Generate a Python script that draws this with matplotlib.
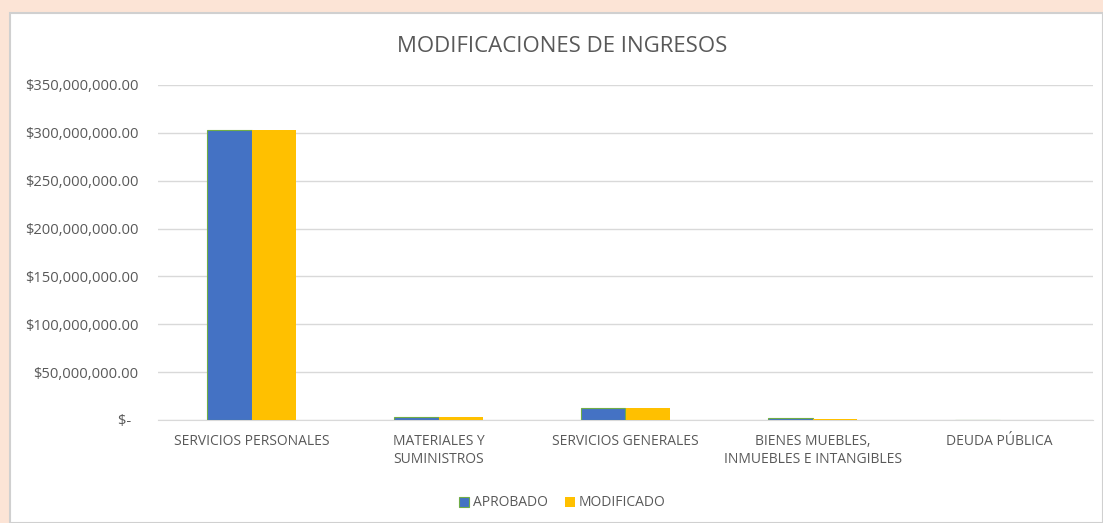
import matplotlib.pyplot as plt
import matplotlib.patches as patches
import numpy as np
from matplotlib.ticker import FuncFormatter, MultipleLocator

categories = ['SERVICIOS PERSONALES', 'MATERIALES Y\nSUMINISTROS', 'SERVICIOS GENERALES',
              'BIENES MUEBLES,\nINMUEBLES E INTANGIBLES', 'DEUDA PÚBLICA']
aprobado = [303_000_000, 3_000_000, 13_000_000, 2_000_000, 0]
modificado = [303_000_000, 3_000_000, 13_000_000, 1_000_000, 0]

plt.rcParams['font.family'] = ['Open Sans', 'DejaVu Sans']

fig = plt.figure(figsize=(11.03, 5.23), dpi=100)
fig.patch.set_facecolor('#FCE4D6')
fig.patches.append(patches.Rectangle((10 / 1103, 0), 1 - 10 / 1103, 1 - 13 / 523,
                                     transform=fig.transFigure, facecolor='white',
                                     edgecolor='#D0D0D0', linewidth=1.5, zorder=-10))

ax = fig.add_axes([158 / 1103, 1 - 420 / 523, (1093 - 158) / 1103, (420 - 85) / 523])
ax.set_facecolor('none')

x = np.arange(len(categories))
w = 0.24
ax.bar(x - w / 2, aprobado, w, color='#4472C4', edgecolor='#70AD47', linewidth=0.8,
       label='APROBADO', zorder=3)
ax.bar(x + w / 2, modificado, w, color='#FFC000', label='MODIFICADO', zorder=3)

ax.set_xlim(-0.5, len(categories) - 0.5)
ax.set_ylim(0, 350_000_000)
ax.yaxis.set_major_locator(MultipleLocator(50_000_000))


def money(v, pos):
    if v == 0:
        return '$-  '
    return '${:,.2f}'.format(v)


ax.yaxis.set_major_formatter(FuncFormatter(money))
ax.grid(axis='y', color='#D9D9D9', linewidth=1, zorder=0)
for s in ['top', 'right', 'left']:
    ax.spines[s].set_visible(False)
ax.spines['bottom'].set_color('#D9D9D9')
ax.tick_params(axis='both', length=0, labelsize=10, labelcolor='#595959')
ax.tick_params(axis='y', pad=14, labelsize=10.6)
ax.tick_params(axis='x', pad=10)
ax.set_xticks(x)
ax.set_xticklabels(categories, linespacing=1.3)

fig.text(0.51, 1 - 46 / 523, 'MODIFICACIONES DE INGRESOS', ha='center', va='center',
         fontsize=16, color='#595959')

fig.legend(loc='center', bbox_to_anchor=(0.51, 1 - 503 / 523), ncol=2, frameon=False,
           fontsize=10, labelcolor='#595959', handlelength=0.7, handleheight=0.7,
           handletextpad=0.3, columnspacing=1.2)

fig.savefig('out.png', dpi=100, facecolor=fig.get_facecolor())
